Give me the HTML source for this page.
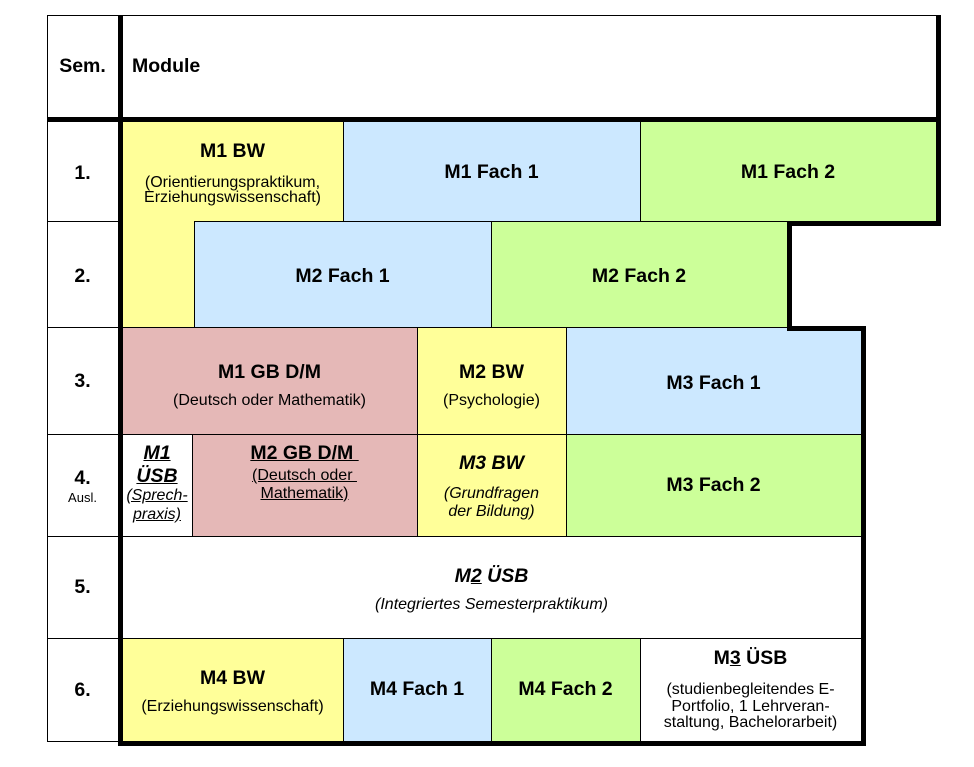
<!DOCTYPE html>
<html>
<head>
<meta charset="utf-8">
<style>
  html, body { margin:0; padding:0; background:#fff; }
  body { width:974px; height:767px; position:relative; overflow:hidden;
         font-family:"Liberation Sans", Arial, sans-serif; color:#000; }
  .c { position:absolute; }
  .h { position:absolute; height:1px; background:#000; }
  .v { position:absolute; width:1px; background:#000; }
  .k { position:absolute; background:#000; }
  .t { position:absolute; white-space:nowrap; text-align:center; }
  .b { font-weight:bold; font-size:19.5px; line-height:19.5px; }
  .r { font-size:16px; line-height:16px; }
  .i { font-style:italic; }
  .u { text-decoration:underline; }
  .Y { background:#FFFF99; }
  .B { background:#CCE8FF; }
  .G { background:#CCFF99; }
  .P { background:#E5B8B7; }
</style>
</head>
<body>

<!-- cell fills -->
<div class="c Y" style="left:122px;top:122px;width:221px;height:99px;"></div>
<div class="c Y" style="left:122px;top:221px;width:72px;height:106px;"></div>
<div class="c Y" style="left:417px;top:327px;width:149px;height:107px;"></div>
<div class="c Y" style="left:417px;top:434px;width:149px;height:102px;"></div>
<div class="c Y" style="left:122px;top:638px;width:221px;height:103px;"></div>

<div class="c B" style="left:343px;top:122px;width:297px;height:99px;"></div>
<div class="c B" style="left:194px;top:221px;width:297px;height:106px;"></div>
<div class="c B" style="left:566px;top:327px;width:295px;height:107px;"></div>
<div class="c B" style="left:343px;top:638px;width:148px;height:103px;"></div>

<div class="c G" style="left:640px;top:122px;width:296px;height:99px;"></div>
<div class="c G" style="left:491px;top:221px;width:296px;height:106px;"></div>
<div class="c G" style="left:566px;top:434px;width:295px;height:102px;"></div>
<div class="c G" style="left:491px;top:638px;width:149px;height:103px;"></div>

<div class="c P" style="left:122px;top:327px;width:295px;height:107px;"></div>
<div class="c P" style="left:192px;top:434px;width:225px;height:102px;"></div>

<!-- thin horizontal lines -->
<div class="h" style="left:47px;top:15px;width:894px;"></div>
<div class="h" style="left:47px;top:221px;width:71px;"></div>
<div class="h" style="left:194px;top:221px;width:593px;"></div>
<div class="h" style="left:47px;top:327px;width:71px;"></div>
<div class="h" style="left:122px;top:327px;width:665px;"></div>
<div class="h" style="left:47px;top:434px;width:814px;"></div>
<div class="h" style="left:47px;top:536px;width:814px;"></div>
<div class="h" style="left:47px;top:638px;width:814px;"></div>
<div class="h" style="left:47px;top:741px;width:71px;"></div>

<!-- thin vertical lines -->
<div class="v" style="left:47px;top:15px;height:727px;"></div>
<div class="v" style="left:343px;top:122px;height:99px;"></div>
<div class="v" style="left:640px;top:122px;height:99px;"></div>
<div class="v" style="left:194px;top:221px;height:106px;"></div>
<div class="v" style="left:491px;top:221px;height:106px;"></div>
<div class="v" style="left:417px;top:327px;height:209px;"></div>
<div class="v" style="left:566px;top:327px;height:209px;"></div>
<div class="v" style="left:192px;top:434px;height:102px;"></div>
<div class="v" style="left:343px;top:638px;height:103px;"></div>
<div class="v" style="left:491px;top:638px;height:103px;"></div>
<div class="v" style="left:640px;top:638px;height:103px;"></div>

<!-- thick lines -->
<div class="k" style="left:118px;top:15px;width:5px;height:731px;"></div>
<div class="k" style="left:47px;top:117px;width:894px;height:5px;"></div>
<div class="k" style="left:936px;top:15px;width:5px;height:211px;"></div>
<div class="k" style="left:787px;top:221px;width:154px;height:5px;"></div>
<div class="k" style="left:787px;top:221px;width:5px;height:110px;"></div>
<div class="k" style="left:787px;top:326px;width:79px;height:5px;"></div>
<div class="k" style="left:861px;top:326px;width:5px;height:420px;"></div>
<div class="k" style="left:118px;top:741px;width:748px;height:5px;"></div>

<!-- header -->
<div class="t b" style="left:47px;width:71px;top:56.5px;">Sem.</div>
<div class="t b" style="left:132px;top:56.5px;text-align:left;">Module</div>

<!-- semester numbers -->
<div class="t b" style="left:47px;width:71px;top:164px;">1.</div>
<div class="t b" style="left:47px;width:71px;top:267px;">2.</div>
<div class="t b" style="left:47px;width:71px;top:372px;">3.</div>
<div class="t b" style="left:47px;width:71px;top:469px;">4.</div>
<div class="t" style="left:47px;width:71px;top:491px;font-size:13px;line-height:13px;">Ausl.</div>
<div class="t b" style="left:47px;width:71px;top:578px;">5.</div>
<div class="t b" style="left:47px;width:71px;top:680.5px;">6.</div>

<!-- row 1 -->
<div class="t b" style="left:122px;width:221px;top:142px;">M1 BW</div>
<div class="t r" style="left:122px;width:221px;top:174.5px;">(Orientierungspraktikum,</div>
<div class="t r" style="left:122px;width:221px;top:189.5px;">Erziehungswissenschaft)</div>
<div class="t b" style="left:343px;width:297px;top:162.5px;">M1 Fach 1</div>
<div class="t b" style="left:640px;width:296px;top:162.5px;">M1 Fach 2</div>

<!-- row 2 -->
<div class="t b" style="left:194px;width:297px;top:266.5px;">M2 Fach 1</div>
<div class="t b" style="left:491px;width:296px;top:266.5px;">M2 Fach 2</div>

<!-- row 3 -->
<div class="t b" style="left:122px;width:295px;top:362.5px;">M1 GB D/M</div>
<div class="t r" style="left:122px;width:295px;top:393px;">(Deutsch oder Mathematik)</div>
<div class="t b" style="left:417px;width:149px;top:362.5px;">M2 BW</div>
<div class="t r" style="left:417px;width:149px;top:393px;">(Psychologie)</div>
<div class="t b" style="left:566px;width:295px;top:374px;">M3 Fach 1</div>

<!-- row 4 -->
<div class="t b i u" style="left:122px;width:70px;top:443.7px;">M1</div>
<div class="t b i u" style="left:122px;width:70px;top:466.7px;">ÜSB</div>
<div class="t r i u" style="left:122px;width:70px;top:487.5px;">(Sprech-</div>
<div class="t r i u" style="left:122px;width:70px;top:507px;">praxis)</div>

<div class="t b u" style="left:192px;width:225px;top:443.7px;">M2 GB D/M&nbsp;</div>
<div class="t r u" style="left:192px;width:225px;top:468px;">(Deutsch oder&nbsp;</div>
<div class="t r u" style="left:192px;width:225px;top:485.5px;">Mathematik)</div>

<div class="t b i" style="left:417px;width:149px;top:454px;">M3 BW</div>
<div class="t r i" style="left:417px;width:149px;top:486px;">(Grundfragen</div>
<div class="t r i" style="left:417px;width:149px;top:503.5px;">der Bildung)</div>
<div class="t b" style="left:566px;width:295px;top:475.5px;">M3 Fach 2</div>

<!-- row 5 -->
<div class="t b i" style="left:122px;width:739px;top:567px;">M<span class="u">2</span> ÜSB</div>
<div class="t r i" style="left:122px;width:739px;top:597px;">(Integriertes Semesterpraktikum)</div>

<!-- row 6 -->
<div class="t b" style="left:122px;width:221px;top:668.5px;">M4 BW</div>
<div class="t r" style="left:122px;width:221px;top:699px;">(Erziehungswissenschaft)</div>
<div class="t b" style="left:343px;width:148px;top:679.5px;">M4 Fach 1</div>
<div class="t b" style="left:491px;width:149px;top:679.5px;">M4 Fach 2</div>
<div class="t b" style="left:640px;width:221px;top:649px;">M<span class="u">3</span> ÜSB</div>
<div class="t r" style="left:640px;width:221px;top:682px;">(studienbegleitendes E-</div>
<div class="t r" style="left:640px;width:221px;top:698.5px;">Portfolio, 1 Lehrveran-</div>
<div class="t r" style="left:640px;width:221px;top:715px;">staltung, Bachelorarbeit)</div>

</body>
</html>
